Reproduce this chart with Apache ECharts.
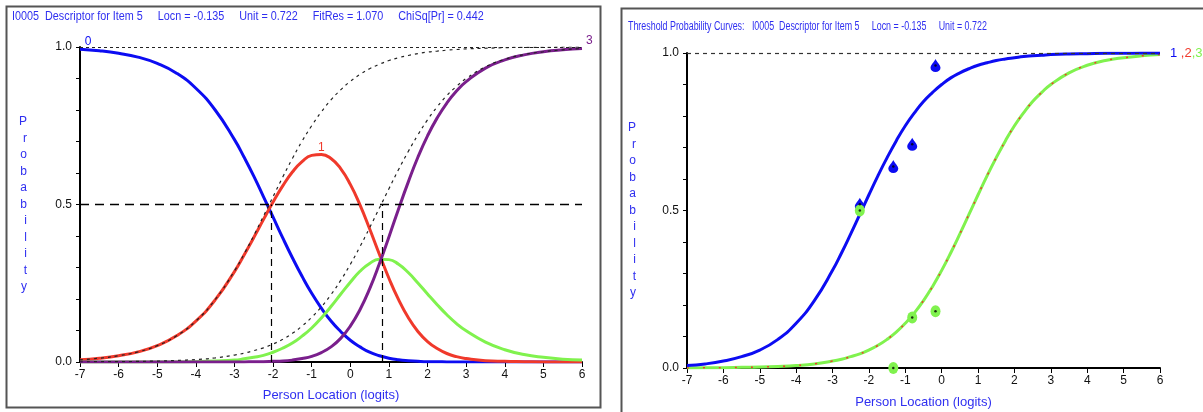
<!DOCTYPE html>
<html>
<head>
<meta charset="utf-8">
<script src="https://cdn.jsdelivr.net/npm/echarts@6/dist/echarts.min.js"></script>
<style>
  html, body { margin: 0; padding: 0; background: #fff; }
  #main { width: 1203px; height: 412px; }
</style>
</head>
<body>
<div id="main"></div>
<script>
// person locations (logits) the curves are read at
const xs = [-7, -6.5, -6, -5.5, -5, -4.5, -4, -3.5, -3,
  -2.75, -2.5, -2.25, -2, -1.75, -1.5, -1.25, -1, -0.75, -0.5, -0.25, 0, 0.25, 0.5, 0.75, 1, 1.25, 1.5, 1.75, 2, 2.25, 2.5, 2.75,
  3, 3.5, 4, 4.5, 5, 5.5, 6];

// left: category probability curves
const cat0 = [0.993, 0.988, 0.980, 0.968, 0.948, 0.917, 0.869, 0.800, 0.706,
  0.650, 0.590, 0.525, 0.460, 0.394, 0.331, 0.272, 0.218, 0.171, 0.130, 0.097, 0.069, 0.048, 0.031, 0.020, 0.012, 0.007, 0.004, 0.002, 0.001, 0.001, 0, 0,
  0, 0, 0, 0, 0, 0, 0];
const cat1 = [0.007, 0.012, 0.020, 0.032, 0.052, 0.083, 0.130, 0.197, 0.287,
  0.340, 0.395, 0.452, 0.508, 0.559, 0.603, 0.636, 0.656, 0.659, 0.646, 0.614, 0.564, 0.499, 0.423, 0.343, 0.266, 0.198, 0.141, 0.097, 0.065, 0.043, 0.027, 0.017,
  0.011, 0.004, 0.002, 0.001, 0, 0, 0];
const cat2 = [0, 0, 0, 0, 0, 0, 0.001, 0.003, 0.006,
  0.010, 0.015, 0.021, 0.031, 0.044, 0.060, 0.082, 0.108, 0.140, 0.176, 0.215, 0.253, 0.288, 0.313, 0.326, 0.325, 0.310, 0.284, 0.251, 0.216, 0.182, 0.150, 0.122,
  0.099, 0.063, 0.039, 0.024, 0.015, 0.009, 0.006];
const cat3 = [0, 0, 0, 0, 0, 0, 0, 0, 0,
  0, 0.001, 0.001, 0.002, 0.003, 0.006, 0.011, 0.018, 0.030, 0.048, 0.075, 0.114, 0.166, 0.232, 0.311, 0.397, 0.486, 0.571, 0.650, 0.718, 0.775, 0.822, 0.860,
  0.890, 0.933, 0.959, 0.975, 0.985, 0.991, 0.995];
// left: dashed threshold curves
const dash1 = [0.007, 0.012, 0.020, 0.032, 0.052, 0.083, 0.130, 0.198, 0.289,
  0.343, 0.401, 0.463, 0.525, 0.587, 0.646, 0.701, 0.750, 0.794, 0.832, 0.864, 0.891, 0.913, 0.931, 0.945, 0.957, 0.966, 0.973, 0.979, 0.984, 0.987, 0.990, 0.992,
  0.994, 0.996, 0.998, 0.999, 0.999, 1, 1];
const dash2 = [0, 0.001, 0.001, 0.002, 0.003, 0.005, 0.008, 0.013, 0.022,
  0.028, 0.036, 0.045, 0.057, 0.072, 0.091, 0.114, 0.142, 0.175, 0.214, 0.259, 0.310, 0.366, 0.426, 0.488, 0.550, 0.611, 0.668, 0.721, 0.769, 0.810, 0.846, 0.875,
  0.900, 0.937, 0.961, 0.976, 0.985, 0.991, 0.995];
const thresholdsLeft = [-2.05, 0.82];

// right: threshold probability curves
const thr1 = [0.008, 0.013, 0.022, 0.036, 0.057, 0.091, 0.142, 0.214, 0.310,
  0.366, 0.426, 0.488, 0.550, 0.611, 0.668, 0.721, 0.769, 0.810, 0.846, 0.875, 0.900, 0.921, 0.937, 0.950, 0.961, 0.969, 0.976, 0.981, 0.985, 0.989, 0.991, 0.993,
  0.995, 0.997, 0.998, 0.999, 0.999, 1, 1];
const thr2 = [0, 0.001, 0.001, 0.002, 0.003, 0.005, 0.008, 0.013, 0.022,
  0.028, 0.036, 0.045, 0.057, 0.072, 0.091, 0.114, 0.142, 0.175, 0.214, 0.259, 0.310, 0.366, 0.426, 0.488, 0.550, 0.611, 0.668, 0.721, 0.769, 0.810, 0.846, 0.875,
  0.900, 0.937, 0.961, 0.976, 0.985, 0.991, 0.995];
const thr3 = thr2.slice();
// right: observed class-interval proportions
const obsX = [-2.25, -1.33, -0.81, -0.17];
const obs1 = [0.52, 0.64, 0.71, 0.96];
const obs23 = [0.50, 0.0, 0.16, 0.18];

const titleLeft = 'I0005  Descriptor for Item 5     Locn = -0.135     Unit = 0.722     FitRes = 1.070     ChiSq[Pr] = 0.442';
const titleRight = 'Threshold Probability Curves:   I0005  Descriptor for Item 5     Locn = -0.135     Unit = 0.722';

const FONT = "'Liberation Sans', Arial, sans-serif";
const BLUE = '#0c0cf2';
const RED = '#f0392b';
const GREEN = '#80f24e';
const PURPLE = '#7a1f8c';
const TEXTBLUE = '#2f2ff0';

const pts = arr => xs.map((x, i) => [x, arr[i]]);

const chart = echarts.init(document.getElementById('main'));

function yAxisFor(idx, gap) {
  return {
    type: 'value', gridIndex: idx, min: 0, max: 1, interval: 0.1,
    name: 'P\nr\no\nb\na\nb\ni\nl\ni\nt\ny',
    nameLocation: 'middle', nameRotate: 0, nameGap: gap,
    nameTextStyle: { color: TEXTBLUE, fontFamily: FONT, fontSize: 12, lineHeight: 16.5 },
    axisLine: { show: true, onZero: false, lineStyle: { color: '#000', width: 2 } },
    axisTick: { show: true, length: 4, lineStyle: { color: '#000' } },
    splitLine: { show: false },
    axisLabel: {
      color: '#111', fontFamily: FONT, fontSize: 12, margin: 8,
      formatter: v => (Math.abs(v * 2 - Math.round(v * 2)) < 1e-6 ? v.toFixed(1) : '')
    }
  };
}
function xAxisFor(idx, gap) {
  return {
    type: 'value', gridIndex: idx, min: -7, max: 6, interval: 1,
    name: 'Person Location (logits)', nameLocation: 'middle', nameGap: gap,
    nameTextStyle: { color: TEXTBLUE, fontFamily: FONT, fontSize: 13 },
    axisLine: { show: true, onZero: false, lineStyle: { color: '#000', width: 2 } },
    axisTick: { show: true, length: 5, lineStyle: { color: '#000' } },
    splitLine: { show: false },
    axisLabel: { color: '#111', fontFamily: FONT, fontSize: 12, margin: 7 }
  };
}

const curve = (name, grid, data, color, extra) => Object.assign({
  name, type: 'line', xAxisIndex: grid, yAxisIndex: grid,
  data: pts(data), smooth: true, showSymbol: false, symbol: 'none',
  lineStyle: { color, width: 3 }, z: 3
}, extra || {});

const option = {
  animation: false,
  backgroundColor: '#fff',
  graphic: [
    { type: 'rect', shape: { x: 6.5, y: 6.5, width: 594, height: 401 }, style: { fill: 'none', stroke: '#555', lineWidth: 2 } },
    { type: 'rect', shape: { x: 621.5, y: 8.5, width: 620, height: 420 }, style: { fill: 'none', stroke: '#555', lineWidth: 2 } },
    { type: 'text', x: 12, y: 17, scaleX: 0.9,
      style: { text: titleLeft, fill: TEXTBLUE, font: '12px ' + FONT, verticalAlign: 'middle' } },
    { type: 'text', x: 628, y: 27, scaleX: 0.74,
      style: { text: titleRight, fill: TEXTBLUE, font: '12px ' + FONT, verticalAlign: 'middle' } }
  ],
  grid: [
    { left: 80, top: 47, width: 502, height: 315, outerBoundsMode: 'none', containLabel: false },
    { left: 687, top: 53, width: 473, height: 315, outerBoundsMode: 'none', containLabel: false }
  ],
  xAxis: [xAxisFor(0, 27), xAxisFor(1, 28)],
  yAxis: [yAxisFor(0, 53), yAxisFor(1, 51)],
  series: [
    curve('cat0', 0, cat0, BLUE, {
      markLine: {
        silent: true, symbol: 'none', label: { show: false },
        data: [
          { yAxis: 0.5, lineStyle: { color: '#000', type: [9, 6], width: 1.3 } },
          { yAxis: 1, lineStyle: { color: '#222', type: [3, 3], width: 1 } },
          [{ coord: [thresholdsLeft[0], 0], lineStyle: { color: '#000', type: [7, 5], width: 1.2 } }, { coord: [thresholdsLeft[0], 0.5] }],
          [{ coord: [thresholdsLeft[1], 0], lineStyle: { color: '#000', type: [7, 5], width: 1.2 } }, { coord: [thresholdsLeft[1], 0.5] }]
        ]
      },
      markPoint: {
        symbol: 'circle', symbolSize: 0,
        label: { show: true, formatter: '0', color: BLUE, fontFamily: FONT, fontSize: 12, position: 'top', offset: [8, 3] },
        data: [{ coord: [xs[0], cat0[0]] }]
      }
    }),
    curve('cat1', 0, cat1, RED, {
      markPoint: {
        symbol: 'circle', symbolSize: 0,
        label: { show: true, formatter: '1', color: RED, fontFamily: FONT, fontSize: 12, position: 'top', offset: [0, 4] },
        data: [{ coord: [xs[17], cat1[17]] }]
      }
    }),
    curve('cat2', 0, cat2, GREEN),
    curve('cat3', 0, cat3, PURPLE, {
      endLabel: { show: true, formatter: '3', color: PURPLE, fontFamily: FONT, fontSize: 12, offset: [-4, -8] }
    }),
    curve('dash1', 0, dash1, '#222', { lineStyle: { color: '#222', width: 1.2, type: [3, 4] }, z: 4 }),
    curve('dash2', 0, dash2, '#222', { lineStyle: { color: '#222', width: 1.2, type: [3, 4] }, z: 4 }),

    curve('thr1', 1, thr1, BLUE, {
      markLine: {
        silent: true, symbol: 'none', label: { show: false },
        data: [{ yAxis: 1, lineStyle: { color: '#333', type: [4, 4], width: 1.2 } }]
      },
      endLabel: {
        show: true, fontFamily: FONT, fontSize: 13, offset: [2, 0],
        formatter: '{b|1} {r|,2}{g|,3}',
        rich: {
          b: { color: BLUE, fontFamily: FONT, fontSize: 13 },
          r: { color: RED, fontFamily: FONT, fontSize: 13 },
          g: { color: GREEN, fontFamily: FONT, fontSize: 13 }
        }
      },
      z: 4
    }),
    curve('thr2', 1, thr2, GREEN),
    curve('thr3', 1, thr3, RED, { lineStyle: { color: RED, width: 1.5, type: [2, 14] }, z: 3.5 }),
    {
      name: 'obs1', type: 'scatter', xAxisIndex: 1, yAxisIndex: 1,
      data: obsX.map((x, i) => [x, obs1[i]]),
      symbol: 'path://M5,0 C6,3 10,7 10,10 A5,5 0 1,1 0,10 C0,7 4,3 5,0 Z',
      symbolSize: [10, 13], itemStyle: { color: BLUE, opacity: 1 }, z: 5
    },
    {
      name: 'obs23', type: 'scatter', xAxisIndex: 1, yAxisIndex: 1,
      data: obsX.map((x, i) => [x, obs23[i]]),
      symbol: 'circle', symbolSize: [10, 12], itemStyle: { color: GREEN, opacity: 1 }, z: 6
    },
    {
      name: 'centres', type: 'scatter', xAxisIndex: 1, yAxisIndex: 1,
      data: obsX.map((x, i) => [x, obs1[i]]).concat(obsX.map((x, i) => [x, obs23[i]])),
      symbol: 'circle', symbolSize: 2.5, itemStyle: { color: '#000' }, z: 7
    }
  ]
};
chart.setOption(option);
</script>
</body>
</html>
